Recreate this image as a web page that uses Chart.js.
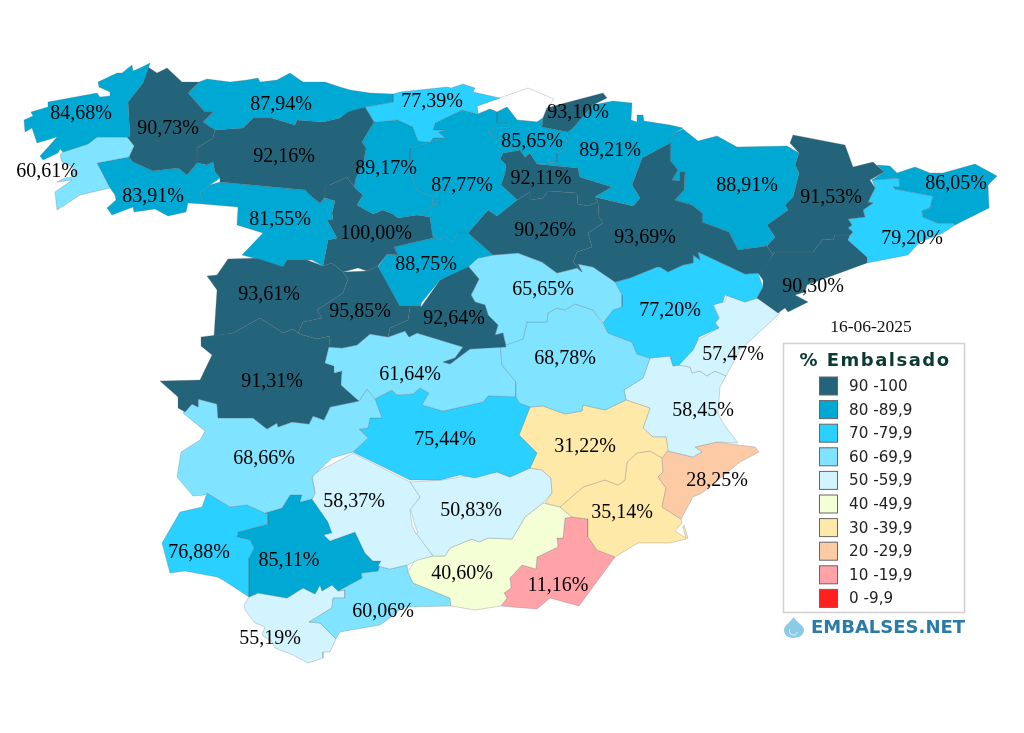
<!DOCTYPE html>
<html>
<head>
<meta charset="utf-8">
<title>% Embalsado</title>
<script src="https://cdn.jsdelivr.net/npm/chart.js@4"></script>
<style>
html,body{margin:0;padding:0;background:#fff;}
#mapa{display:block;}
</style>
</head>
<body>
<canvas id="mapa" width="1024" height="733"></canvas>
<script>
// values, same order as the outlines and label anchors below
const zonas = ['coruna','pontevedra','lugo','asturias','ourense','leon','cantabria','palencia','burgos','gipuzkoa','alava','navarra','rioja','zaragoza','huesca','lleida','girona','barcelona','tarragona','zamora','valladolid','soria','segovia','salamanca','avila','madrid','guadalajara','teruel','castellon','cuenca','toledo','caceres','badajoz','ciudadReal','albacete','valencia','alicante','cordoba','jaen','murcia','huelva','sevilla','granada','almeria','malaga','cadiz'];
const embalsado = [84.68,60.61,90.73,87.94,83.91,92.16,77.39,89.17,87.77,93.10,85.65,89.21,92.11,93.69,88.91,91.53,86.05,79.20,90.30,81.55,100.00,90.26,88.75,93.61,95.85,92.64,65.65,77.20,57.47,68.78,61.64,91.31,68.66,75.44,31.22,58.45,28.25,58.37,50.83,35.14,76.88,85.11,40.60,11.16,60.06,55.19];
const labelX = [81,47,168,281,153,284,432,386,462,578,532,610,541,645,747,831,956,912,813,280,376,545,426,269,360,454,543,670,733,565,410,272,264,445,585,703,717,354,471,622,199,289,462,558,383,270];
const labelY = [112,170,127,103,195,155,100,167,184,111,140,149,177,236,184,196,182,237,285,218,232,229,263,293,310,317,288,309,353,357,373,380,457,438,445,409,479,500,509,511,551,559,572,584,610,637];

const rangos = ['90 -100','80 -89,9','70 -79,9','60 -69,9','50 -59,9','40 -49,9','30 -39,9','20 -29,9','10 -19,9','0 -9,9'];
const rangoMin = [90,80,70,60,50,40,30,20,10,0];
const colores = ['#23647a','#00a9d4','#2ad0ff','#80e3ff','#d2f4ff','#f5ffd6','#ffe9a8','#fdcaa6','#ffa3a8','#ff2020'];
const fecha = '16-06-2025';

const outlines = {
coruna:[[150,63],[147,73],[143,83],[128,102],[130,137],[97,137],[88,144],[63,152],[60,149],[58,153],[43,160],[40,156],[50,145],[57,137],[37,143],[32,128],[25,132],[24,120],[33,116],[31,112],[48,107],[48,102],[97,93],[100,97],[110,96],[110,92],[99,87],[98,82],[117,73],[122,73],[132,65],[133,71],[140,68]],
pontevedra:[[97,137],[127,137],[134,146],[129,157],[97,163],[110,188],[80,195],[57,210],[55,192],[72,180],[57,182],[65,178],[72,177],[73,167],[62,162],[60,155],[63,152],[88,144]],
lugo:[[148,67],[157,73],[167,68],[182,82],[199,82],[188,93],[205,112],[213,112],[203,122],[215,130],[213,138],[197,148],[197,163],[187,175],[178,168],[153,171],[133,162],[129,157],[134,146],[127,137],[130,137],[128,102],[143,83]],
asturias:[[199,82],[207,79],[230,82],[247,80],[258,78],[260,82],[277,80],[290,73],[303,82],[325,82],[340,87],[350,90],[370,93],[393,94],[393,102],[365,107],[348,112],[340,118],[323,122],[297,120],[295,125],[272,118],[253,118],[243,128],[215,130],[203,122],[213,112],[205,112],[188,93]],
ourense:[[97,163],[129,157],[133,162],[153,171],[178,168],[187,175],[197,163],[207,165],[213,162],[215,172],[220,178],[210,185],[200,193],[203,204],[188,203],[186,212],[168,216],[155,209],[134,212],[133,207],[112,215],[107,208],[116,200],[115,195],[110,188]],
leon:[[215,130],[243,128],[253,118],[272,118],[295,125],[297,120],[323,122],[340,118],[348,111],[365,107],[374,122],[362,142],[366,148],[363,165],[356,178],[354,187],[347,177],[330,185],[325,185],[325,197],[320,203],[312,197],[305,190],[220,182],[220,178],[215,172],[213,162],[207,165],[197,163],[197,148],[213,138]],
cantabria:[[393,94],[400,92],[447,87],[451,88],[463,84],[475,88],[473,92],[500,98],[477,106],[478,114],[462,110],[435,123],[433,130],[445,130],[438,132],[445,138],[433,138],[430,142],[418,141],[413,127],[398,120],[374,122],[365,107],[393,102]],
palencia:[[374,122],[398,120],[413,127],[418,141],[430,142],[433,138],[445,138],[410,148],[410,170],[417,190],[433,197],[432,205],[440,202],[417,215],[398,218],[393,214],[383,210],[373,214],[357,205],[363,195],[354,187],[356,178],[363,165],[366,148],[362,142]],
burgos:[[478,114],[490,109],[497,112],[497,123],[508,123],[510,128],[497,127],[488,132],[493,137],[502,139],[502,145],[520,150],[503,153],[500,159],[506,165],[505,173],[501,185],[517,200],[497,216],[488,210],[468,233],[458,233],[452,243],[445,236],[440,240],[432,233],[430,217],[417,215],[440,202],[432,205],[433,197],[417,190],[410,170],[410,148],[445,138],[438,132],[445,130],[433,130],[435,123],[462,110]],
gipuzkoa:[[547,108],[565,103],[603,93],[607,98],[593,105],[573,128],[568,132],[542,127],[543,118]],
alava:[[497,112],[507,107],[517,120],[537,122],[543,118],[542,127],[568,132],[565,150],[557,153],[557,162],[537,164],[530,153],[525,157],[520,150],[502,145],[502,139],[493,137],[488,132],[497,127],[510,128],[508,123],[497,123]],
navarra:[[593,105],[613,101],[632,103],[631,120],[637,122],[637,115],[643,115],[644,121],[670,125],[683,128],[675,133],[670,143],[642,158],[632,185],[640,198],[633,206],[595,197],[612,187],[580,177],[578,168],[537,164],[557,162],[557,153],[565,150],[568,132],[573,128]],
rioja:[[500,159],[503,153],[520,150],[525,157],[530,153],[537,164],[578,168],[580,177],[612,187],[595,197],[598,202],[588,206],[578,204],[577,193],[548,191],[543,198],[530,200],[530,192],[517,200],[501,185],[505,173],[506,165]],
zaragoza:[[595,197],[633,206],[640,198],[632,185],[642,158],[670,143],[670,160],[678,170],[672,180],[680,181],[680,172],[685,172],[684,190],[675,200],[692,205],[702,213],[702,222],[729,232],[738,250],[767,246],[773,255],[760,273],[745,274],[698,252],[700,260],[693,255],[693,263],[683,265],[668,272],[660,267],[657,267],[630,278],[615,282],[593,267],[578,264],[582,272],[573,262],[577,252],[592,247],[588,233],[603,223],[599,217],[598,202]],
huesca:[[683,129],[675,133],[670,143],[670,160],[678,170],[672,180],[680,181],[680,172],[685,172],[684,190],[675,200],[692,205],[702,213],[702,222],[729,232],[738,250],[767,246],[775,237],[767,225],[788,210],[785,205],[793,197],[799,173],[795,165],[799,153],[787,146],[737,147],[717,136],[698,141]],
lleida:[[793,135],[845,145],[853,167],[873,162],[884,172],[870,180],[875,188],[868,202],[873,203],[863,210],[865,217],[848,219],[852,225],[848,228],[853,232],[850,235],[835,235],[833,240],[823,239],[813,252],[775,252],[773,255],[767,246],[775,237],[767,225],[788,210],[785,205],[793,197],[799,173],[795,165],[799,153],[790,143]],
girona:[[877,165],[890,166],[897,173],[915,167],[930,173],[943,173],[975,164],[997,176],[988,185],[989,208],[955,225],[955,223],[937,223],[923,217],[922,211],[930,208],[933,196],[895,189],[893,187],[900,187],[899,178],[872,180],[884,172]],
barcelona:[[872,180],[899,178],[900,187],[893,187],[895,189],[933,196],[930,208],[922,211],[923,217],[937,223],[955,223],[955,225],[943,233],[920,242],[908,255],[867,263],[867,257],[848,240],[850,235],[853,232],[848,228],[852,225],[848,219],[865,217],[863,210],[873,203],[868,202],[875,188]],
tarragona:[[775,252],[813,252],[823,239],[833,240],[835,235],[850,235],[848,240],[867,257],[867,263],[807,285],[805,292],[795,295],[808,302],[796,308],[788,312],[785,308],[778,313],[757,298],[763,287],[763,280],[758,273],[773,255]],
zamora:[[220,182],[305,190],[312,197],[320,203],[325,198],[335,201],[332,213],[333,220],[327,220],[337,238],[328,240],[323,266],[312,260],[287,260],[283,267],[262,260],[242,255],[263,233],[237,225],[238,207],[203,204],[200,193],[210,185]],
valladolid:[[323,266],[328,240],[337,238],[327,220],[333,220],[332,213],[335,201],[325,198],[320,203],[325,197],[325,185],[330,185],[347,177],[354,187],[363,195],[357,205],[373,214],[383,210],[393,214],[398,218],[417,215],[430,217],[433,238],[394,247],[398,255],[387,254],[378,266],[367,271],[358,268],[343,272],[332,263]],
soria:[[468,233],[488,210],[497,216],[517,200],[530,192],[530,200],[543,198],[548,191],[577,193],[578,204],[588,206],[598,202],[599,217],[603,223],[588,233],[592,247],[577,252],[573,262],[582,272],[577,268],[557,273],[542,262],[518,253],[493,255]],
segovia:[[378,267],[387,254],[398,255],[394,247],[433,238],[432,233],[440,240],[445,236],[452,243],[458,233],[468,233],[493,255],[478,258],[468,267],[440,280],[422,302],[420,306],[400,306]],
salamanca:[[207,276],[217,275],[228,259],[260,258],[283,266],[287,260],[307,260],[323,266],[332,263],[343,272],[348,279],[343,293],[317,310],[322,318],[303,322],[298,333],[293,329],[283,333],[260,318],[233,333],[214,336],[217,290]],
avila:[[343,272],[367,271],[378,266],[400,306],[420,302],[421,307],[410,307],[408,320],[390,328],[388,337],[370,334],[357,345],[342,348],[329,347],[330,336],[317,339],[303,335],[298,333],[303,322],[322,318],[317,310],[343,293],[348,279]],
madrid:[[421,307],[440,280],[468,266],[479,279],[471,295],[475,302],[485,305],[488,315],[498,325],[495,335],[503,333],[506,347],[470,349],[450,364],[443,362],[455,358],[463,347],[417,333],[409,337],[405,331],[388,337],[390,328],[408,320],[410,307]],
guadalajara:[[468,267],[478,258],[493,255],[518,253],[542,262],[557,273],[577,268],[582,272],[578,264],[593,267],[615,282],[622,295],[622,307],[613,310],[603,323],[593,310],[575,304],[565,310],[557,308],[548,313],[547,322],[527,322],[523,339],[506,345],[503,333],[495,335],[498,325],[488,315],[485,305],[475,302],[471,295],[479,279]],
teruel:[[603,323],[613,310],[622,307],[622,295],[615,282],[630,278],[657,267],[660,267],[668,272],[683,265],[693,263],[693,255],[700,260],[698,252],[745,274],[758,273],[763,287],[757,298],[745,302],[725,295],[723,302],[713,305],[719,318],[715,323],[719,328],[699,337],[693,350],[679,365],[673,366],[670,356],[650,358],[637,354],[632,342],[608,333]],
castellon:[[677,358],[679,365],[690,367],[692,373],[700,371],[707,376],[715,371],[726,376],[740,350],[780,313],[758,298],[745,302],[727,295],[725,302],[713,304],[720,318],[715,322],[719,328],[698,340],[693,350]],
cuenca:[[500,343],[523,339],[527,322],[547,322],[548,313],[557,308],[565,310],[575,304],[593,310],[602,323],[608,333],[632,342],[637,354],[650,358],[643,378],[624,390],[626,400],[605,410],[583,405],[582,411],[565,414],[543,406],[530,407],[519,403],[516,397],[516,382],[502,365]],
toledo:[[329,347],[342,348],[357,345],[370,334],[388,337],[405,331],[409,337],[417,333],[463,347],[455,358],[443,362],[450,364],[470,349],[500,345],[502,365],[516,382],[516,397],[488,396],[483,402],[443,411],[422,405],[429,393],[420,388],[413,394],[397,395],[392,390],[375,399],[367,389],[359,401],[341,385],[342,371],[334,373],[334,366],[325,363]],
caceres:[[201,337],[233,333],[260,318],[283,333],[293,329],[298,333],[303,335],[317,339],[330,336],[329,347],[325,363],[334,366],[334,373],[342,371],[341,385],[359,401],[330,407],[324,420],[313,416],[309,424],[292,422],[278,427],[277,423],[267,429],[253,418],[218,418],[217,404],[198,399],[198,407],[192,404],[185,412],[178,408],[178,397],[160,381],[200,380],[212,355],[201,346]],
badajoz:[[183,413],[192,404],[198,407],[198,399],[217,404],[218,418],[253,418],[267,429],[277,423],[278,427],[292,422],[309,424],[313,416],[324,420],[330,407],[359,401],[367,389],[375,399],[382,418],[370,418],[368,428],[359,429],[368,438],[353,452],[332,458],[312,477],[315,493],[312,499],[300,502],[302,495],[290,495],[282,508],[265,513],[247,505],[230,507],[207,493],[205,495],[193,496],[177,477],[181,452],[200,440],[205,431]],
ciudadReal:[[517,395],[530,407],[519,435],[537,453],[530,468],[510,477],[497,472],[475,478],[460,475],[440,480],[410,480],[363,457],[353,452],[368,438],[359,429],[368,428],[370,418],[382,418],[375,399],[392,390],[397,395],[413,394],[420,388],[429,393],[422,405],[443,411],[483,402],[488,396]],
albacete:[[530,407],[543,406],[565,414],[582,411],[583,405],[605,410],[626,400],[650,408],[643,428],[653,437],[666,437],[668,450],[662,458],[650,451],[637,453],[627,462],[625,480],[618,485],[605,480],[583,487],[560,507],[545,503],[552,493],[551,478],[542,470],[530,468],[537,453],[519,435]],
valencia:[[624,390],[643,378],[650,358],[670,356],[673,366],[679,365],[690,367],[692,373],[700,371],[707,376],[715,371],[726,376],[720,387],[718,413],[723,423],[738,443],[717,442],[695,447],[702,452],[693,457],[668,451],[666,437],[653,437],[643,428],[650,408],[626,400]],
alicante:[[662,458],[668,451],[693,457],[702,452],[695,447],[717,442],[738,445],[755,447],[759,452],[740,462],[702,493],[693,497],[681,519],[662,507],[666,488],[658,477],[663,472]],
cordoba:[[353,453],[410,482],[420,497],[410,510],[412,525],[415,532],[419,537],[433,556],[418,560],[407,565],[390,569],[378,566],[381,561],[373,561],[365,553],[355,532],[330,541],[324,535],[332,533],[328,522],[312,499],[315,493],[312,475]],
jaen:[[410,482],[442,480],[473,475],[497,472],[510,477],[530,468],[542,470],[551,478],[552,493],[543,503],[525,517],[512,539],[488,538],[479,542],[472,539],[450,548],[445,556],[433,556],[415,533],[418,533],[415,525],[410,508],[420,498]],
murcia:[[560,507],[583,487],[605,480],[618,485],[625,480],[627,462],[637,453],[650,451],[662,458],[663,472],[658,477],[666,488],[662,507],[681,519],[682,523],[675,531],[686,538],[683,527],[684,525],[688,538],[686,539],[670,543],[638,543],[615,557],[597,550],[588,537],[588,519],[572,517]],
huelva:[[207,493],[230,507],[247,505],[265,513],[268,515],[268,524],[238,532],[237,537],[250,540],[254,548],[249,558],[249,597],[223,580],[217,577],[185,571],[170,573],[162,543],[180,512],[202,507]],
sevilla:[[265,513],[282,508],[290,495],[302,495],[300,502],[312,499],[328,522],[332,533],[324,535],[330,541],[355,532],[365,553],[373,561],[381,561],[378,571],[361,573],[362,578],[338,591],[332,585],[322,591],[320,585],[315,594],[303,588],[287,598],[258,593],[249,597],[249,558],[254,548],[250,540],[237,537],[238,532],[268,524],[268,515]],
granada:[[433,556],[445,556],[450,548],[472,539],[479,542],[488,538],[512,539],[525,517],[543,503],[560,507],[572,517],[565,518],[563,538],[557,538],[558,547],[537,557],[536,569],[522,565],[510,578],[511,588],[504,593],[507,598],[501,606],[475,610],[451,606],[450,598],[413,583],[408,572],[415,560]],
almeria:[[565,518],[572,517],[588,519],[588,537],[597,550],[615,557],[579,606],[550,598],[537,609],[501,606],[507,598],[504,593],[511,588],[510,578],[522,565],[536,569],[537,557],[558,547],[557,538],[563,538]],
malaga:[[407,565],[408,572],[413,583],[450,598],[451,606],[403,607],[390,618],[380,625],[340,632],[336,639],[320,623],[309,622],[332,608],[333,598],[345,598],[345,590],[338,591],[362,578],[361,573],[378,571],[378,566],[390,569]],
cadiz:[[249,597],[258,593],[287,598],[303,588],[315,594],[320,585],[322,591],[332,585],[338,591],[345,590],[345,598],[333,598],[332,608],[309,622],[320,623],[336,639],[330,652],[323,652],[323,658],[308,663],[293,655],[275,648],[272,642],[262,635],[265,627],[255,623],[245,610],[244,605]]
};
// the uncoloured patch on the north coast
const sinDatos = [[477,106],[528,88],[554,99],[547,108],[543,118],[537,122],[517,120],[507,107],[497,112],[490,109],[478,114]];

function colorDe(v) {
    for (let i = 0; i < rangoMin.length; i++) {
        if (v >= rangoMin[i]) return colores[i];
    }
    return '#fff';
}

function zonaDataset(puntos, relleno) {
    const cerrado = puntos.concat([puntos[0]]).map(p => ({x: p[0], y: p[1]}));
    return {
        data: cerrado,
        showLine: true,
        fill: 'shape',
        backgroundColor: relleno,
        borderColor: 'rgba(90,100,105,0.38)',
        borderWidth: 0.7,
        tension: 0,
        pointRadius: 0,
        pointHoverRadius: 0
    };
}

const datasets = zonas.map((z, i) => zonaDataset(outlines[z], colorDe(embalsado[i])));
datasets.push(zonaDataset(sinDatos, '#ffffff'));
// invisible anchors, the plugin below writes the percentages on them
datasets.push({
    data: labelX.map((x, i) => ({x: x, y: labelY[i]})),
    showLine: false,
    pointRadius: 0,
    pointHoverRadius: 0
});

const rotulos = {
    id: 'rotulos',
    afterDatasetsDraw(chart) {
        const c = chart.ctx;
        const meta = chart.getDatasetMeta(chart.data.datasets.length - 1);
        c.save();
        c.fillStyle = '#000';
        c.font = '20px "Liberation Serif"';
        c.textAlign = 'center';
        c.textBaseline = 'middle';
        meta.data.forEach((pt, i) => {
            c.fillText(embalsado[i].toFixed(2).replace('.', ',') + '%', pt.x, pt.y + 2);
        });

        // date
        c.font = '17.5px "Liberation Serif"';
        c.fillStyle = '#111';
        c.fillText(fecha, 871, 327);

        // legend box
        c.strokeStyle = '#d0d0d0';
        c.lineWidth = 1.5;
        c.strokeRect(783.5, 343.5, 181, 269);
        c.font = 'bold 18px "DejaVu Sans"';
        c.letterSpacing = '1.5px';
        c.fillStyle = '#0a3a33';
        c.fillText('% Embalsado', 875, 361);
        c.letterSpacing = '0px';
        c.textAlign = 'left';
        c.font = '15.2px "DejaVu Sans"';
        rangos.forEach((r, i) => {
            const y = 386 + i * 23.6;
            c.fillStyle = colores[i];
            c.fillRect(819.5, y - 9, 18, 18);
            c.strokeStyle = '#666';
            c.lineWidth = 1;
            c.strokeRect(819.5, y - 9, 18, 18);
            c.fillStyle = '#222';
            c.fillText(r, 849, y + 1);
        });

        // logo
        c.fillStyle = '#8ccbe8';
        c.beginPath();
        c.moveTo(793.5, 617);
        c.bezierCurveTo(790, 623, 784, 625, 784, 630);
        c.bezierCurveTo(784, 635, 788, 638, 793.5, 638);
        c.bezierCurveTo(799, 638, 804, 635, 804, 630);
        c.bezierCurveTo(804, 625, 797, 623, 793.5, 617);
        c.fill();
        c.strokeStyle = '#eaf6fb';
        c.beginPath();
        c.arc(793.5, 631, 4, 0.2, 3.6);
        c.stroke();
        c.fillStyle = '#2a7ba8';
        c.font = 'bold 18px "DejaVu Sans"';
        c.fillText('EMBALSES.NET', 811, 628.5);
        c.restore();
    }
};

new Chart(document.getElementById('mapa'), {
    type: 'scatter',
    data: {datasets: datasets},
    plugins: [rotulos],
    options: {
        responsive: false,
        animation: false,
        events: [],
        layout: {padding: 0},
        scales: {
            x: {type: 'linear', min: 0, max: 1024, display: false},
            y: {type: 'linear', min: 0, max: 733, reverse: true, display: false}
        },
        plugins: {
            legend: {display: false},
            tooltip: {enabled: false}
        }
    }
});
</script>
</body>
</html>
